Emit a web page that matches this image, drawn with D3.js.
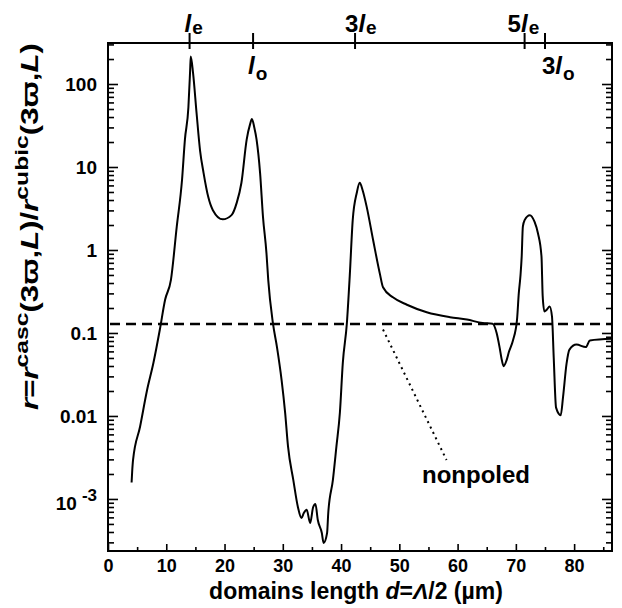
<!DOCTYPE html>
<html><head><meta charset="utf-8">
<script src="https://cdn.jsdelivr.net/npm/d3@7"></script>
<style>
body{margin:0;background:#fff}
svg text{font-family:"Liberation Sans",Arial,Helvetica,sans-serif;font-weight:bold;fill:#000}
</style>
</head><body>
<svg id="chart" width="622" height="608"></svg>
<script>
// ---- data ----
const domainLength = [4.05,4.15,4.3,5.5,6.7,7.8,8.9,9.8,10.8,11.8,12.7,13.2,13.8,14.1,14.2,14.6,15.2,15.8,16.4,17.2,18.0,19.7,21.2,22.1,22.9,23.8,24.4,24.7,25.1,25.5,26.1,26.6,27.2,27.5,28.3,29.0,29.8,30.4,30.9,31.8,32.6,33.2,33.6,34.1,34.7,35.2,35.6,36.0,36.7,37.0,37.6,37.8,38.6,39.2,39.8,40.3,41.0,41.5,42.0,42.7,43.2,43.7,44.4,45.5,46.7,47.2,48.9,51.3,54.7,58.7,61.6,64.3,66.0,66.7,67.2,67.6,67.9,68.4,68.8,69.5,70.2,70.5,70.8,71.0,71.2,71.5,72.4,73.2,73.8,74.4,74.6,74.9,75.3,75.8,76.2,76.5,76.9,77.7,78.1,78.7,79.2,80.4,82.0,82.7,86.5];
const ratio = [0.00158,0.00214,0.00295,0.00741,0.0204,0.0437,0.110,0.251,0.437,1.91,6.92,21.4,52.5,148,214,135,44.7,15.8,8.51,4.37,3.02,2.34,2.63,3.72,6.46,21.4,33.1,38.0,30.2,21.4,8.51,2.51,0.912,0.437,0.132,0.0676,0.0269,0.0110,0.00427,0.00170,0.000794,0.000589,0.000676,0.000741,0.000513,0.000794,0.000871,0.000562,0.000389,0.000295,0.000389,0.000676,0.00170,0.00427,0.0110,0.0437,0.132,0.501,2.29,4.90,6.46,5.25,3.31,1.32,0.501,0.355,0.269,0.219,0.178,0.155,0.145,0.132,0.129,0.100,0.0676,0.0468,0.0398,0.0468,0.0589,0.0813,0.145,0.30,0.50,0.832,1.91,2.29,2.63,2.19,1.58,0.832,0.282,0.182,0.191,0.209,0.158,0.0501,0.0126,0.0102,0.0170,0.0427,0.0631,0.0724,0.0676,0.0813,0.0851];

const nonpoledLevel = 0.128;
const nonpoledPointerD = [47.2, 58.1];
const nonpoledPointerR = [0.110, 0.00295];
const nonpoledLabel = "nonpoled";
const nonpoledLabelPos = [53.9, 0.00155];

const xMajorTicks = [0,10,20,30,40,50,60,70,80];
const xMinorTicks = [5,15,25,35,45,55,65,75,85];
const yMajorTicks = [100,10,1,0.1,0.01,0.001];
const yTickLabels = ["100","10","1","0.1","0.01","10-3"];

// top marks: coherence-length markers
const topMarkPrefix = ["", "", "3", "5", "3"];
const topMarkSub = ["e", "o", "e", "e", "o"];
const topMarkPositions = [14.0, 24.9, 42.4, 71.5, 75.0];
const topMarkAbove = [true, false, true, true, false];

const xDomain = [0, 86.5];
const yDomain = [2.36e-4, 312];

// ---- layout ----
const L = 108, R = 612, T = 43, B = 551;
const svg = d3.select("#chart");
const x = d3.scaleLinear(xDomain, [L, R]);
const y = d3.scaleLog(yDomain, [B, T]);

// minor log ticks
const yMinorTicks = [];
for (let e = -4; e <= 2; e++) for (let m = 2; m <= 9; m++) {
  const v = m * Math.pow(10, e);
  if (v >= yDomain[0] && v <= yDomain[1]) yMinorTicks.push(v);
}

function styleAxis(g, fs) {
  g.attr("font-size", fs).attr("font-family", null);
  g.select(".domain").remove();
  g.selectAll(".tick line").attr("stroke", "#000").attr("stroke-width", 1.6);
}

// left axis
svg.append("g").attr("transform", `translate(${L},0)`)
  .call(d3.axisLeft(y).tickValues(yMinorTicks).tickSize(-6).tickFormat(""))
  .call(g => styleAxis(g, 19));
const yAx = svg.append("g").attr("transform", `translate(${L},0)`)
  .call(d3.axisLeft(y).tickValues(yMajorTicks).tickSize(-10).tickPadding(11)
    .tickFormat((d, i) => yTickLabels[i]))
  .call(g => styleAxis(g, 19));
yAx.selectAll(".tick text").each(function(d, i) {
  if (yTickLabels[i] === "10-3") {
    const t = d3.select(this).text("");
    t.append("tspan").text("10");
    t.append("tspan").attr("dx", 5).attr("dy", -9).attr("font-size", 17).text("-3");
    t.attr("dy", "0.55em");
  }
});
// right axis
svg.append("g").attr("transform", `translate(${R},0)`)
  .call(d3.axisRight(y).tickValues(yMinorTicks).tickSize(-6).tickFormat(""))
  .call(g => styleAxis(g, 19));
svg.append("g").attr("transform", `translate(${R},0)`)
  .call(d3.axisRight(y).tickValues(yMajorTicks).tickSize(-10).tickFormat(""))
  .call(g => styleAxis(g, 19));

// bottom axis
svg.append("g").attr("transform", `translate(0,${B})`)
  .call(d3.axisBottom(x).tickValues(xMinorTicks).tickSize(-4).tickFormat(""))
  .call(g => styleAxis(g, 18));
svg.append("g").attr("transform", `translate(0,${B})`)
  .call(d3.axisBottom(x).tickValues(xMajorTicks).tickSize(-7).tickPadding(8).tickFormat(d3.format("d")))
  .call(g => styleAxis(g, 18));

// frame
svg.append("rect").attr("x", L).attr("y", T).attr("width", R - L).attr("height", B - T)
  .attr("fill", "none").attr("stroke", "#000").attr("stroke-width", 2);

// top marks
topMarkPositions.forEach((p, i) => {
  const px = x(p);
  svg.append("line").attr("x1", px).attr("x2", px).attr("y1", T - 10).attr("y2", T + 6)
    .attr("stroke", "#000").attr("stroke-width", 2);
  const offs = topMarkPrefix[i] ? (topMarkAbove[i] ? (i === 3 ? -17 : -10) : -3) : -5;
  const t = svg.append("text").attr("x", px + offs).attr("y", topMarkAbove[i] ? 32 : 74)
    .attr("font-size", 24);
  if (topMarkPrefix[i]) t.append("tspan").text(topMarkPrefix[i]);
  t.append("tspan").attr("font-style", "italic").text("l");
  t.append("tspan").attr("font-size", 19).attr("dx", 1).attr("dy", topMarkAbove[i] ? 2 : 6).text(topMarkSub[i]);
});

// nonpoled dashed level
svg.append("line").attr("x1", L + 2).attr("x2", R).attr("y1", y(nonpoledLevel)).attr("y2", y(nonpoledLevel))
  .attr("stroke", "#000").attr("stroke-width", 2.5).attr("stroke-dasharray", "10,6");

// pointer
svg.append("line")
  .attr("x1", x(nonpoledPointerD[0])).attr("y1", y(nonpoledPointerR[0]))
  .attr("x2", x(nonpoledPointerD[1])).attr("y2", y(nonpoledPointerR[1]))
  .attr("stroke", "#000").attr("stroke-width", 2).attr("stroke-dasharray", "2,4");
svg.append("text").attr("x", x(nonpoledLabelPos[0])).attr("y", y(nonpoledLabelPos[1]))
  .attr("font-size", 24).text(nonpoledLabel);

// curve
const pts = domainLength.map((d, i) => [d, ratio[i]]);
svg.append("path").datum(pts)
  .attr("fill", "none").attr("stroke", "#000").attr("stroke-width", 2).attr("stroke-linejoin", "round")
  .attr("d", d3.line().curve(d3.curveMonotoneX).x(d => x(d[0])).y(d => y(d[1])));

// x title
const xt = svg.append("text").attr("x", 356).attr("y", 599).attr("text-anchor", "middle").attr("font-size", 23);
xt.append("tspan").text("domains length ");
xt.append("tspan").attr("font-style", "italic").text("d");
xt.append("tspan").text("=");
xt.append("tspan").attr("font-style", "italic").text("Λ");
xt.append("tspan").text("/2 (µm)");

// y title
const yt = svg.append("text").attr("text-anchor", "middle").attr("font-size", 24);
const parts = [["r","i"],["=","n"],["r","i"],["casc","s"],["(3ϖ,","n"],["L","i"],[")/","n"],["r","i"],["cubic","s"],["(3ϖ,","n"],["L","i"],[")","n"]];
let prevSup = false;
parts.forEach(([txt, kind]) => {
  const ts = yt.append("tspan").text(txt);
  if (kind === "i") ts.attr("font-style", "italic");
  if (kind === "s") { ts.attr("font-size", 19).attr("dy", -10); prevSup = true; }
  else if (prevSup) { ts.attr("dy", 10); prevSup = false; }
});
const len = yt.node().getComputedTextLength();
const s = 367 / len;
yt.attr("transform", `translate(38,${(43 + 410) / 2}) rotate(-90) scale(${s},1)`);
</script>
</body></html>
